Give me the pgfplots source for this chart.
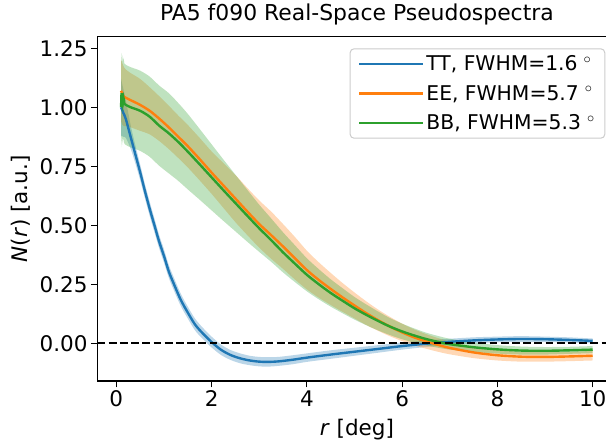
\documentclass[border=0pt]{standalone}
\usepackage{pgfplots}
\pgfplotsset{compat=1.18}
\usepgfplotslibrary{fillbetween}
\usepackage{pgfplotstable}
\usepackage{fontspec}
\setmainfont{DejaVu Sans}
\definecolor{cTT}{HTML}{1F77B4}
\definecolor{cEE}{HTML}{FF7F0E}
\definecolor{cBB}{HTML}{2CA02C}

\pgfplotstableread{
r y e
0.10 1.000 0.120
0.15 0.975 0.100
0.20 0.950 0.080
0.30 0.875 0.050
0.40 0.800 0.038
0.50 0.725 0.033
0.60 0.645 0.030
0.70 0.570 0.030
0.80 0.500 0.029
0.90 0.430 0.028
1.00 0.370 0.028
1.10 0.305 0.027
1.20 0.255 0.027
1.35 0.185 0.026
1.50 0.130 0.025
1.65 0.080 0.025
1.80 0.045 0.024
2.00 0.005 0.023
2.20 -0.028 0.022
2.40 -0.050 0.021
2.60 -0.064 0.021
2.80 -0.073 0.020
3.00 -0.078 0.020
3.20 -0.079 0.020
3.40 -0.077 0.019
3.70 -0.070 0.019
4.00 -0.061 0.018
4.50 -0.048 0.018
5.00 -0.036 0.017
5.50 -0.024 0.016
6.00 -0.012 0.015
6.50 -0.002 0.014
7.00 0.006 0.013
7.50 0.012 0.013
8.00 0.016 0.012
8.50 0.018 0.012
9.00 0.017 0.011
9.50 0.014 0.011
10.00 0.010 0.010
}\TT

\pgfplotstableread{
r y e
0.10 1.070 0.130
0.13 1.055 0.130
0.16 1.045 0.125
0.20 1.040 0.120
0.30 1.030 0.115
0.50 1.010 0.110
0.70 0.985 0.100
0.90 0.952 0.095
1.10 0.915 0.092
1.30 0.875 0.090
1.50 0.835 0.090
1.75 0.780 0.090
2.00 0.723 0.090
2.25 0.668 0.095
2.50 0.613 0.100
2.75 0.558 0.100
3.00 0.505 0.100
3.25 0.458 0.100
3.50 0.410 0.095
3.75 0.360 0.090
4.00 0.310 0.082
4.25 0.268 0.075
4.50 0.230 0.068
4.75 0.194 0.061
5.00 0.160 0.055
5.25 0.127 0.050
5.50 0.097 0.045
5.75 0.070 0.041
6.00 0.046 0.037
6.25 0.025 0.034
6.50 0.008 0.031
6.75 -0.007 0.029
7.00 -0.020 0.027
7.50 -0.039 0.024
8.00 -0.051 0.022
8.50 -0.057 0.021
9.00 -0.058 0.020
9.50 -0.056 0.020
10.00 -0.053 0.020
}\EE

\pgfplotstableread{
r y e
0.10 1.000 0.170
0.11 1.060 0.170
0.12 1.010 0.170
0.13 1.050 0.170
0.14 1.020 0.170
0.15 1.040 0.170
0.17 1.015 0.170
0.20 1.010 0.170
0.30 1.000 0.170
0.50 0.985 0.170
0.70 0.960 0.170
0.90 0.922 0.170
1.10 0.890 0.170
1.30 0.853 0.165
1.50 0.812 0.160
1.75 0.758 0.150
2.00 0.703 0.140
2.25 0.648 0.130
2.50 0.594 0.120
2.75 0.540 0.110
3.00 0.487 0.100
3.25 0.437 0.092
3.50 0.385 0.085
3.75 0.337 0.078
4.00 0.290 0.070
4.25 0.250 0.064
4.50 0.213 0.058
4.75 0.180 0.053
5.00 0.148 0.048
5.25 0.120 0.044
5.50 0.094 0.040
5.75 0.070 0.036
6.00 0.050 0.033
6.25 0.033 0.030
6.50 0.018 0.027
6.75 0.006 0.025
7.00 -0.004 0.023
7.50 -0.017 0.020
8.00 -0.026 0.018
8.50 -0.031 0.017
9.00 -0.032 0.016
9.50 -0.030 0.015
10.00 -0.027 0.015
}\BB

\newcommand{\fnt}{\fontsize{21.5pt}{25pt}\selectfont}
\newcommand{\tfnt}{\fontsize{21.9pt}{26pt}\selectfont}
\newcommand{\lfnt}{\fontsize{20.3pt}{24pt}\selectfont}
\newcommand{\dg}{\hspace{0.3em}$^{\circ}$}

\begin{document}
\begin{tikzpicture}
\begin{axis}[
  at={(97.5pt,60pt)}, anchor=south west,
  scale only axis, width=518.8pt, height=344.3pt,
  xmin=-0.395, xmax=10.495, ymin=-0.160, ymax=1.299,
  xtick={0,2,4,6,8,10},
  ytick={0,0.25,0.5,0.75,1,1.25},
  yticklabel style={/pgf/number format/.cd, fixed, fixed zerofill, precision=2},
  /pgf/number format/assume math mode=true,
  tick label style={font=\fnt},
  label style={font=\fnt},
  title style={font=\tfnt, at={(axis description cs:0.5,1.029)}, anchor=base},
  title={PA5 f090 Real-Space Pseudospectra},
  xlabel={\textit{r} [deg]},
  ylabel={\textit{N}(\textit{r}) [a.u.]},
  xlabel style={at={(axis description cs:0.5,-0.1597)}, anchor=base},
  ylabel style={at={(axis description cs:-0.1353,0.5)}, anchor=base},
  tick align=outside, major tick length=6.5pt,
  tick style={black, line width=1.1pt},
  axis line style={line width=1.1pt},
  xtick pos=bottom, ytick pos=left,
  legend cell align=left,
  legend style={at={(1,1)}, anchor=north east, xshift=-11pt, yshift=-11.6pt,
    font=\lfnt, draw=black!20, rounded corners=4pt, line width=1pt,
    fill=white, fill opacity=0.8, text opacity=1,
    row sep=9pt, inner xsep=8pt, inner ysep=5pt},
]
% TT
\addplot[name path=TTh, draw=none, forget plot, smooth] table[x=r, y expr=\thisrow{y}+\thisrow{e}] {\TT};
\addplot[name path=TTl, draw=none, forget plot, smooth] table[x=r, y expr=\thisrow{y}-\thisrow{e}] {\TT};
\addplot[fill=cTT, fill opacity=0.3, draw=none, forget plot] fill between[of=TTh and TTl];
\addplot[cTT, line width=2.4pt, smooth,
  legend image code/.code={\draw[cTT, line width=2.2pt] (0pt,0pt) -- (46pt,0pt); \path (46pt,0pt) -- (64pt,0pt);}] table[x=r, y=y] {\TT};
\addlegendentry{TT, FWHM=1.6\dg}
% EE
\addplot[name path=EEh, draw=none, forget plot, smooth] table[x=r, y expr=\thisrow{y}+\thisrow{e}] {\EE};
\addplot[name path=EEl, draw=none, forget plot, smooth] table[x=r, y expr=\thisrow{y}-\thisrow{e}] {\EE};
\addplot[fill=cEE, fill opacity=0.3, draw=none, forget plot] fill between[of=EEh and EEl];
\addplot[cEE, line width=2.4pt, smooth,
  legend image code/.code={\draw[cEE, line width=2.2pt] (0pt,0pt) -- (46pt,0pt); \path (46pt,0pt) -- (64pt,0pt);}] table[x=r, y=y] {\EE};
\addlegendentry{EE, FWHM=5.7\dg}
% BB
\addplot[name path=BBh, draw=none, forget plot, smooth] table[x=r, y expr=\thisrow{y}+\thisrow{e}] {\BB};
\addplot[name path=BBl, draw=none, forget plot, smooth] table[x=r, y expr=\thisrow{y}-\thisrow{e}] {\BB};
\addplot[fill=cBB, fill opacity=0.3, draw=none, forget plot] fill between[of=BBh and BBl];
\addplot[cBB, line width=2.4pt, smooth,
  legend image code/.code={\draw[cBB, line width=2.2pt] (0pt,0pt) -- (46pt,0pt); \path (46pt,0pt) -- (64pt,0pt);}] table[x=r, y=y] {\BB};
\addlegendentry{BB, FWHM=5.3\dg}
% zero line
\addplot[black, line width=2.1pt, dash pattern=on 7.8pt off 3.4pt, forget plot] coordinates {(-0.395,0) (10.495,0)};
\end{axis}
\pgfresetboundingbox
\useasboundingbox (0pt,0pt) rectangle (606pt,441pt);
\end{tikzpicture}
\end{document}
